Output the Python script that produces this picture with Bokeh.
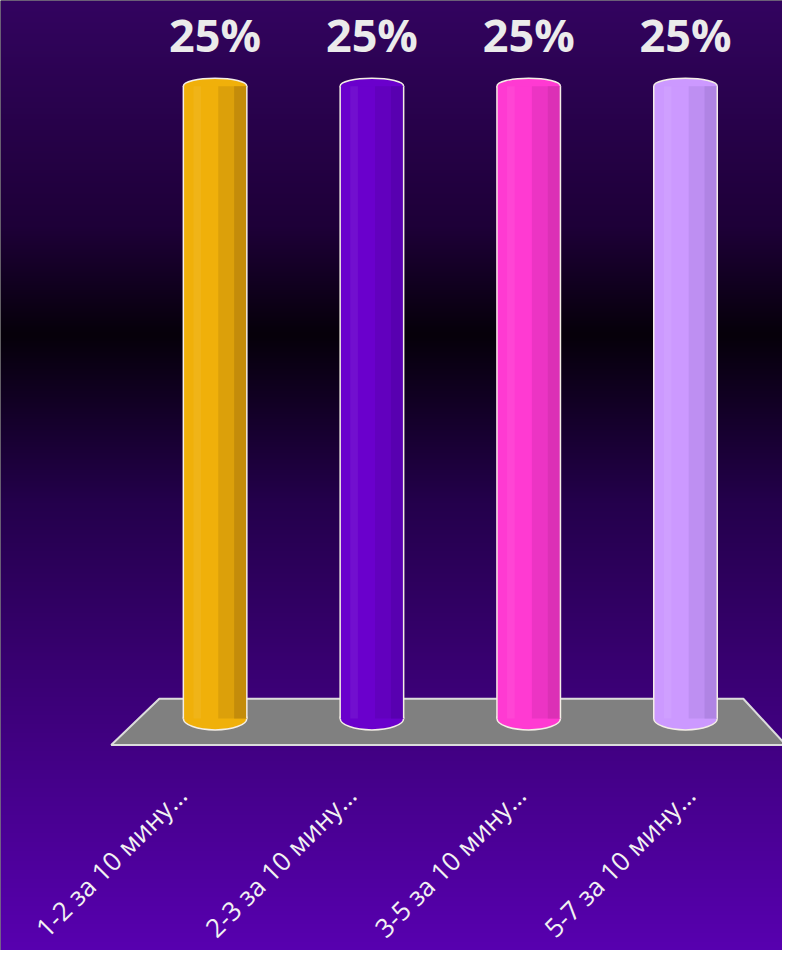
import numpy as np
from bokeh.plotting import figure
from bokeh.models import Range1d, ColumnDataSource
from bokeh.transform import dodge
from bokeh.core.properties import value
from bokeh.embed import file_html
from bokeh.resources import INLINE

# ---- data ----
categories = ["1-2 за 10 мину…", "2-3 за 10 мину…", "3-5 за 10 мину…", "5-7 за 10 мину…"]
percent = [25, 25, 25, 25]
percent_labels = ["25%", "25%", "25%", "25%"]
base_colors = ["#f0b00a", "#6a00cc", "#ff3ad2", "#cc99ff"]
mid_colors = ["#dca00a", "#6200be", "#ec34c4", "#be8ff2"]
dark_colors = ["#c48c0a", "#5800b0", "#dc30b6", "#b084e4"]

W, H = 782, 950
X0, X1 = -1.3686, 3.6186
Y0, Y1 = -9.178, 28.39
xs = list(range(len(categories)))

p = figure(width=W, height=H, output_backend="svg", toolbar_location=None,
           x_range=Range1d(X0, X1), y_range=Range1d(Y0, Y1),
           min_border=0, outline_line_color=None)
p.axis.visible = False
p.grid.visible = False
p.background_fill_color = "#000000"
p.border_fill_color = "#000000"

# ---- background gradient ----
stops_y = [0, 226, 334, 502, 659, 950]
stops_c = [(51, 4, 96), (30, 0, 56), (6, 0, 10), (36, 0, 76), (56, 0, 112), (88, 0, 176)]
rows = np.arange(H)
img = np.zeros((H, 1), dtype=np.uint32)
view = img.view(dtype=np.uint8).reshape((H, 1, 4))
for ch in range(3):
    col = np.interp(rows, stops_y, [c[ch] for c in stops_c])
    view[:, 0, ch] = col[::-1].astype(np.uint8)
view[:, 0, 3] = 255
p.image_rgba(image=[img], x=X0, y=Y0, dw=X1 - X0, dh=Y1 - Y0)

# ---- floor plate ----
p.patch(x=[-0.6626, -0.3559, 3.3687, 3.64], y=[-1.048, 0.779, 0.779, -1.048],
        fill_color="#808080", line_color="#dcdcdc", line_width=2)

# ---- cylinders ----
src = ColumnDataSource(dict(x=xs, top=percent, base=base_colors, mid=mid_colors,
                            dark=dark_colors, lab=percent_labels, zero=[0] * len(xs)))
bw = 0.405
pxu = W / (X1 - X0)
# bottom caps
p.ellipse(x="x", y="zero", width=bw * pxu, height=23, width_units="screen",
          height_units="screen", fill_color="base", line_color="#f4eee6",
          line_width=1.5, source=src)
# top caps
p.ellipse(x="x", y="top", width=bw * pxu, height=16, width_units="screen",
          height_units="screen", fill_color="base", line_color="#f4eee6",
          line_width=1.5, source=src)
# body with shading strips
p.vbar(x="x", top="top", bottom=0, width=bw, fill_color="base", line_color=None, source=src)
p.vbar(x=dodge("x", bw * 0.275, range=p.x_range), top="top", bottom=0, width=bw * 0.45,
       fill_color="mid", line_color=None, source=src)
p.vbar(x=dodge("x", bw * 0.4, range=p.x_range), top="top", bottom=0, width=bw * 0.2,
       fill_color="dark", line_color=None, source=src)
p.vbar(x=dodge("x", -bw * 0.28, range=p.x_range), top="top", bottom=0, width=bw * 0.12,
       fill_color="white", fill_alpha=0.06, line_color=None, source=src)
# side edges
p.segment(x0=dodge("x", -bw / 2, range=p.x_range), y0="zero",
          x1=dodge("x", -bw / 2, range=p.x_range), y1="top",
          line_color="#f4eee6", line_width=1.5, source=src)
p.segment(x0=dodge("x", bw / 2, range=p.x_range), y0="zero",
          x1=dodge("x", bw / 2, range=p.x_range), y1="top",
          line_color="#f4eee6", line_width=1.5, source=src)

# ---- value labels ----
p.text(x="x", y="top", text="lab", source=src, y_offset=-52,
       text_align="center", text_baseline="alphabetic",
       text_font=value("Open Sans"), text_font_style="bold",
       text_font_size="45px", text_color="#ebebeb")

# ---- category labels (perspective-spaced along front edge of floor) ----
lab_x = [x * 1.081 - 0.2124 for x in xs]
p.text(x=lab_x, y=[-2.85] * len(xs), text=categories, angle=np.pi / 4,
       text_align="right", text_baseline="alphabetic",
       text_font=value("Open Sans"), text_font_size="26px", text_color="#f2f2f2")

open("out.html", "w").write(file_html(p, INLINE))
